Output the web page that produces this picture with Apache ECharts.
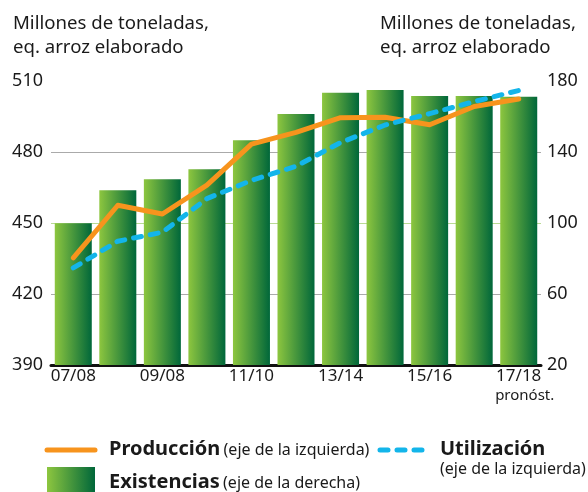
<!DOCTYPE html>
<html><head><meta charset="utf-8">
<script src="https://cdn.jsdelivr.net/npm/echarts@6/dist/echarts.min.js"></script>
<style>html,body{margin:0;padding:0;background:#fff}#c{width:588px;height:492px}</style>
</head><body><div id="c"></div>
<script>
const categories = ['07/08','08/09','09/10','10/11','11/12','12/13','13/14','14/15','15/16','16/17','17/18'];
const tickLabels = ['07/08','','09/08','','11/10','','13/14','','15/16','','17/18'];
const produccion = [435.3, 457.5, 453.8, 466.0, 483.3, 488.3, 494.5, 494.7, 491.5, 499.2, 502.4];
const utilizacion = [431.0, 442.3, 446.1, 460.3, 468.0, 474.0, 484.0, 491.4, 496.2, 501.3, 506.0];
const existencias = [99.8, 118.5, 124.6, 130.3, 146.6, 161.4, 173.4, 174.9, 171.6, 171.6, 171.1];
const leftTicks = {min: 390, max: 510, interval: 30};
const rightTicks = {min: 20, max: 180, interval: 40};

const FONT = 'Noto Sans';
const INK = '#1a1a1a';
const chart = echarts.init(document.getElementById('c'), null, {renderer: 'canvas'});
const green = new echarts.graphic.LinearGradient(0, 0, 1, 0, [
  {offset: 0, color: '#8dc63f'}, {offset: 1, color: '#00673a'}]);
const titleStyle = {fontFamily: FONT, fontSize: 18.6, fontWeight: 'normal', color: INK, lineHeight: 24};

chart.setOption({
  animation: false,
  textStyle: {fontFamily: FONT},
  title: [
    {text: 'Millones de toneladas,\neq. arroz elaborado', left: 13, top: 12, padding: 0, textStyle: titleStyle},
    {text: 'Millones de toneladas,\neq. arroz elaborado', left: 380, top: 12, padding: 0, textStyle: titleStyle}
  ],
  grid: {left: 51, right: 47, top: 81, bottom: 127, containLabel: false},
  xAxis: {
    type: 'category', data: categories, boundaryGap: true,
    axisLine: {lineStyle: {color: '#111', width: 3}},
    axisTick: {show: false},
    axisLabel: {
      interval: 0, margin: 2, color: INK, fontSize: 17, fontFamily: FONT, lineHeight: 18,
      formatter: function (v, i) {
        const t = tickLabels[i];
        if (i === categories.length - 1) return t + '\n{p|pronóst.}';
        return t;
      },
      rich: {p: {fontSize: 15, lineHeight: 20, color: INK, fontFamily: FONT, padding: [2, 0, 0, 12]}}
    }
  },
  yAxis: [
    {type: 'value', min: leftTicks.min, max: leftTicks.max, interval: leftTicks.interval, position: 'left',
     axisLine: {show: false}, axisTick: {show: false},
     axisLabel: {color: INK, fontSize: 18, fontFamily: FONT, margin: 8},
     splitLine: {show: true, lineStyle: {color: ['#aaaaaa', '#aaaaaa', '#b9db93', '#aaaaaa', 'rgba(0,0,0,0)'], width: 1}}},
    {type: 'value', min: rightTicks.min, max: rightTicks.max, interval: rightTicks.interval, position: 'right',
     axisLine: {show: false}, axisTick: {show: false},
     axisLabel: {color: INK, fontSize: 18, fontFamily: FONT, margin: 6},
     splitLine: {show: false}}
  ],
  series: [
    {name: 'Existencias', type: 'bar', yAxisIndex: 1, data: existencias, barWidth: 37,
     itemStyle: {color: green}, z: 1},
    {name: 'Producción', type: 'line', yAxisIndex: 0, data: produccion, symbol: 'none',
     lineStyle: {color: '#f7941d', width: 5, cap: 'round', join: 'round'}, z: 3},
    {name: 'Utilización', type: 'line', yAxisIndex: 0, data: utilizacion, symbol: 'none',
     lineStyle: {color: '#13b5ea', width: 5, type: [8, 9], cap: 'round', join: 'round'}, z: 4}
  ],
  graphic: [
    {type: 'line', shape: {x1: 47, y1: 450, x2: 95, y2: 450}, style: {stroke: '#f7941d', lineWidth: 5, lineCap: 'round'}},
    {type: 'text', x: 109, y: 449, style: {
      text: '{b|Producción} {s|(eje de la izquierda)}', verticalAlign: 'middle',
      rich: {b: {fontFamily: FONT, fontSize: 20, fontWeight: 'bold', fill: INK},
             s: {fontFamily: FONT, fontSize: 16, fill: INK, padding: [3, 0, 0, 0]}}}},
    {type: 'line', shape: {x1: 380, y1: 450, x2: 429, y2: 450}, style: {stroke: '#13b5ea', lineWidth: 5, lineCap: 'round', lineDash: [8, 9]}},
    {type: 'text', x: 440, y: 449, style: {
      text: 'Utilización', verticalAlign: 'middle', font: 'bold 20px "Noto Sans"', fill: INK}},
    {type: 'text', x: 440, y: 469, style: {
      text: '(eje de la izquierda)', verticalAlign: 'middle', font: '16px "Noto Sans"', fill: INK}},
    {type: 'rect', shape: {x: 47, y: 467, width: 48, height: 25}, style: {fill: green}},
    {type: 'text', x: 109, y: 482, style: {
      text: '{b|Existencias} {s|(eje de la derecha)}', verticalAlign: 'middle',
      rich: {b: {fontFamily: FONT, fontSize: 20, fontWeight: 'bold', fill: INK},
             s: {fontFamily: FONT, fontSize: 16, fill: INK, padding: [3, 0, 0, 0]}}}}
  ]
});
</script></body></html>
